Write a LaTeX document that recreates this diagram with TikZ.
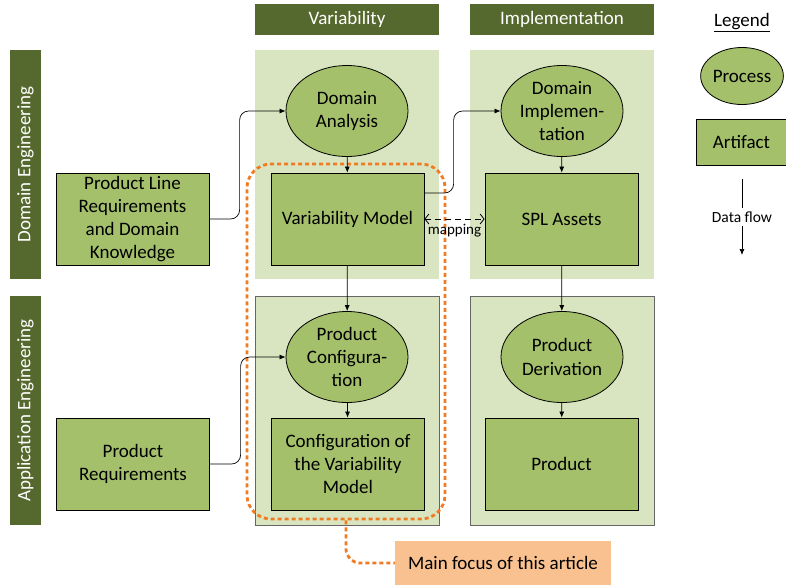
\documentclass[tikz,border=0pt]{standalone}
\usepackage{fontspec}
\setmainfont{Carlito}
\usetikzlibrary{shapes.geometric,arrows.meta,positioning}
\definecolor{hdrgreen}{HTML}{55692E}
\definecolor{panelgreen}{HTML}{D9E5C1}
\definecolor{nodegreen}{HTML}{A4C06A}
\definecolor{focusorange}{HTML}{EF7B22}
\definecolor{noteorange}{HTML}{FAC190}
\begin{document}
\begin{tikzpicture}[x=1pt,y=-1pt,
    font=\fontsize{19}{23.3}\selectfont,
    header/.style={fill=hdrgreen,text=white,minimum width=184pt,minimum height=31pt,inner sep=0pt},
    sidebar/.style={fill=hdrgreen,text=white,rotate=90,minimum width=229pt,minimum height=31pt,inner sep=0pt},
    panel/.style={fill=panelgreen,minimum width=184pt,minimum height=229pt,inner sep=0pt},
    process/.style={ellipse,draw,line width=0.8pt,fill=nodegreen,minimum width=122pt,minimum height=91pt,inner sep=0pt,align=center},
    artifact/.style={rectangle,draw,line width=0.8pt,fill=nodegreen,minimum width=153pt,minimum height=92pt,inner sep=0pt,align=center},
    flow/.style={-{Latex[length=6pt,width=5pt]},line width=0.7pt},
    mapflow/.style={{Straight Barb[length=4pt,width=10pt]}-{Straight Barb[length=4pt,width=10pt]},line width=0.8pt,dash pattern=on 6pt off 4pt}]
  \useasboundingbox (0,0) rectangle (786,584);
  % headers
  \node[header] (hvar) at (347,19.5) {Variability};
  \node[header] (himp) at (562,19.5) {Implementation};
  \node (legend) at (742,23) {\underline{Legend}};
  \node[sidebar] (debar) at (25.5,164.5) {Domain Engineering};
  \node[sidebar] (aebar) at (25.5,410.5) {Application Engineering};
  % panels
  \node[panel] (dvar) at (347,164.5) {};
  \node[panel] (dimp) at (562,164.5) {};
  \node[panel,draw=black!60,line width=0.8pt] (avar) at (347,410.5) {};
  \node[panel,draw=black!60,line width=0.8pt] (aimp) at (562,410.5) {};
  % domain engineering
  \node[artifact] (plr) at (132.5,219) {Product Line\\Requirements\\and Domain\\Knowledge};
  \node[process] (da) at (347,111) {Domain\\Analysis};
  \node[artifact] (vm) at (347.5,219) {Variability Model};
  \node[process] (di) at (562,111) {Domain\\Implemen-\\tation};
  \node[artifact] (spl) at (561.5,219) {SPL Assets};
  % application engineering
  \node[artifact] (pr) at (133,464) {Product\\Requirements};
  \node[process] (pc) at (347,357) {Product\\Configura-\\tion};
  \node[artifact] (cvm) at (348,464) {Configuration of\\the Variability\\Model};
  \node[process] (pd) at (562,357) {Product\\Derivation};
  \node[artifact] (prod) at (561.5,464) {Product};
  % legend
  \node[process,minimum width=77pt,minimum height=57pt] (lproc) at (742,76) {Process};
  \node[artifact,minimum width=91pt,minimum height=46pt] (lart) at (741.5,142) {Artifact};
  \node[font=\fontsize{15.5}{18}\selectfont] (dflow) at (742,217) {Data flow};
  \coordinate (dftop) at (742,179);
  \coordinate (dfbot) at (742,255);
  % focus
  \node[draw=focusorange,line width=2.8pt,dash pattern=on 4pt off 3pt,rounded corners=24pt,
    minimum width=198pt,minimum height=355pt,inner sep=0pt] (focus) at (346,341.5) {};
  \node[fill=noteorange,minimum width=216pt,minimum height=44pt,inner sep=0pt] (note) at (503,563) {Main focus of this article};
  \draw[focusorange,line width=2.8pt,dash pattern=on 4pt off 3pt,rounded corners=14pt] (focus.south) |- (note.west);
  % connectors
  \draw[line width=0.7pt] (dftop) -- (dflow);
  \draw[flow] (dflow) -- (dfbot);
  \draw[flow,rounded corners=9pt] (plr.east) -| ([xshift=-46pt]da.west) -- (da.west);
  \draw[flow,rounded corners=9pt] ([yshift=26pt]vm.east) -| ([xshift=-47pt]di.west) -- (di.west);
  \draw[flow,rounded corners=9pt] (pr.east) -| ([xshift=-45pt]pc.west) -- (pc.west);
  \draw[flow] (da) -- (vm);
  \draw[flow] (di) -- (spl);
  \draw[flow] (vm) -- (pc);
  \draw[flow] (spl) -- (pd);
  \draw[flow] (pc) -- (cvm);
  \draw[flow] (pd) -- (prod);
  \draw[mapflow] (vm.east) -- node[below=1pt,font=\fontsize{15}{18}\selectfont] (maplbl) {mapping} (spl.west);
\end{tikzpicture}
\end{document}
